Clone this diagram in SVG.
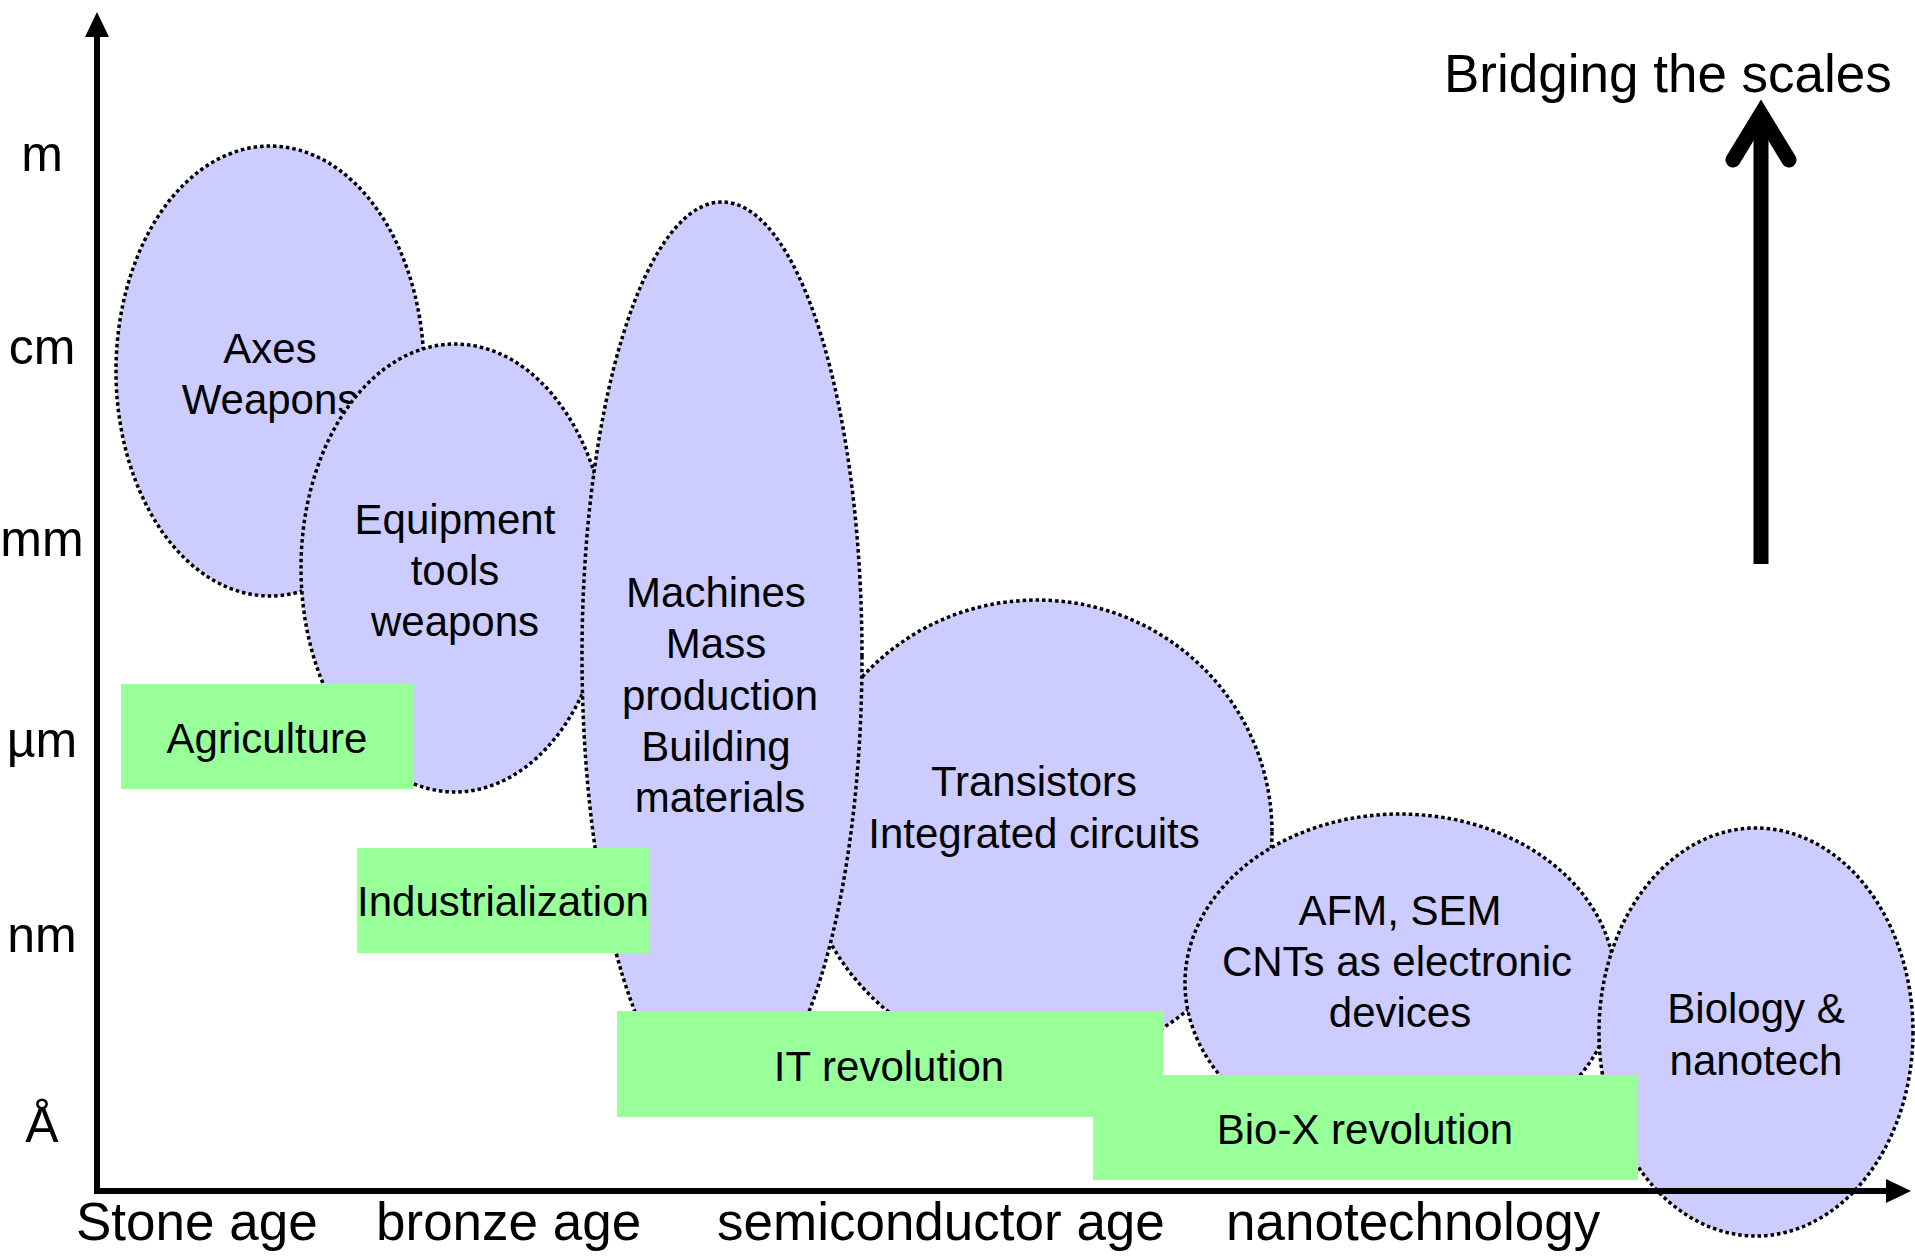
<svg xmlns="http://www.w3.org/2000/svg" width="1915" height="1257" viewBox="0 0 1915 1257">
<style>
text{font-family:"Liberation Sans",Arial,Helvetica,sans-serif;fill:#000}
.el{fill:#CCCCFF;stroke:#000;stroke-width:3.5;stroke-dasharray:3.5 3}
.box{fill:#99FF99;stroke:none}
.t{font-size:42px;text-anchor:middle}
.ax{font-size:50px;text-anchor:middle}
.xl{font-size:53px}
.axis{stroke:#000;stroke-width:6;fill:none}
</style>
<rect width="1915" height="1257" fill="#fff"/>
<g id="n-axes">
<ellipse class="el" cx="270" cy="371" rx="154" ry="225"/>
<text class="t" x="270" y="363">Axes</text>
<text class="t" x="270" y="414">Weapons</text>
</g>
<g id="n-equipment">
<ellipse class="el" cx="455" cy="568" rx="154" ry="224"/>
<text class="t" x="455" y="534">Equipment</text>
<text class="t" x="455" y="585">tools</text>
<text class="t" x="455" y="636">weapons</text>
</g>
<g id="n-transistors">
<ellipse class="el" cx="1037" cy="832" rx="235" ry="232"/>
<text class="t" x="1034" y="796">Transistors</text>
<text class="t" x="1034" y="848">Integrated circuits</text>
</g>
<g id="n-machines">
<ellipse class="el" cx="722" cy="656" rx="140" ry="454"/>
<text class="t" x="716" y="607">Machines</text>
<text class="t" x="716" y="658">Mass</text>
<text class="t" x="720" y="710">production</text>
<text class="t" x="716" y="761">Building</text>
<text class="t" x="720" y="812">materials</text>
</g>
<g id="n-afm">
<ellipse class="el" cx="1400" cy="983" rx="215" ry="169"/>
<text class="t" x="1400" y="925">AFM, SEM</text>
<text class="t" x="1397" y="976">CNTs as electronic</text>
<text class="t" x="1400" y="1027">devices</text>
</g>
<g id="n-biology">
<ellipse class="el" cx="1756" cy="1032" rx="157" ry="204"/>
<text class="t" x="1756" y="1023">Biology &amp;</text>
<text class="t" x="1756" y="1075">nanotech</text>
</g>
<g id="n-agriculture">
<rect class="box" x="121" y="684" width="292" height="105"/>
<text class="t" x="267" y="753">Agriculture</text>
</g>
<g id="n-industrialization">
<rect class="box" x="357" y="848" width="292" height="105"/>
<text class="t" x="503" y="916">Industrialization</text>
</g>
<g id="n-it">
<rect class="box" x="617" y="1011" width="546" height="106"/>
<text class="t" x="889" y="1081">IT revolution</text>
</g>
<g id="n-biox">
<rect class="box" x="1093" y="1075" width="545" height="105"/>
<text class="t" x="1365" y="1144">Bio-X revolution</text>
</g>
<g id="connectors">
<line class="axis" x1="97" y1="1194" x2="97" y2="34"/>
<polygon points="97,12 85,37 109,37" fill="#000"/>
<line class="axis" x1="94" y1="1191" x2="1888" y2="1191"/>
<polygon points="1911,1191 1886,1179 1886,1203" fill="#000"/>
<line x1="1761" y1="564" x2="1761" y2="122" stroke="#000" stroke-width="15"/>
<path d="M1733,160 L1761,114 L1789,160" fill="none" stroke="#000" stroke-width="15" stroke-linecap="round" stroke-linejoin="miter" stroke-miterlimit="10"/>
</g>
<g id="labels">
<text class="ax" x="42" y="171">m</text>
<text class="ax" x="42" y="364">cm</text>
<text class="ax" x="42" y="556">mm</text>
<text class="ax" x="42" y="757">µm</text>
<text class="ax" x="42" y="952">nm</text>
<text class="ax" x="42" y="1142">Å</text>
<text class="xl" x="76" y="1240">Stone age</text>
<text class="xl" x="376" y="1240">bronze age</text>
<text class="xl" x="717" y="1240">semiconductor age</text>
<text class="xl" x="1226" y="1240">nanotechnology</text>
<text class="xl" x="1444" y="92">Bridging the scales</text>
</g>
</svg>
